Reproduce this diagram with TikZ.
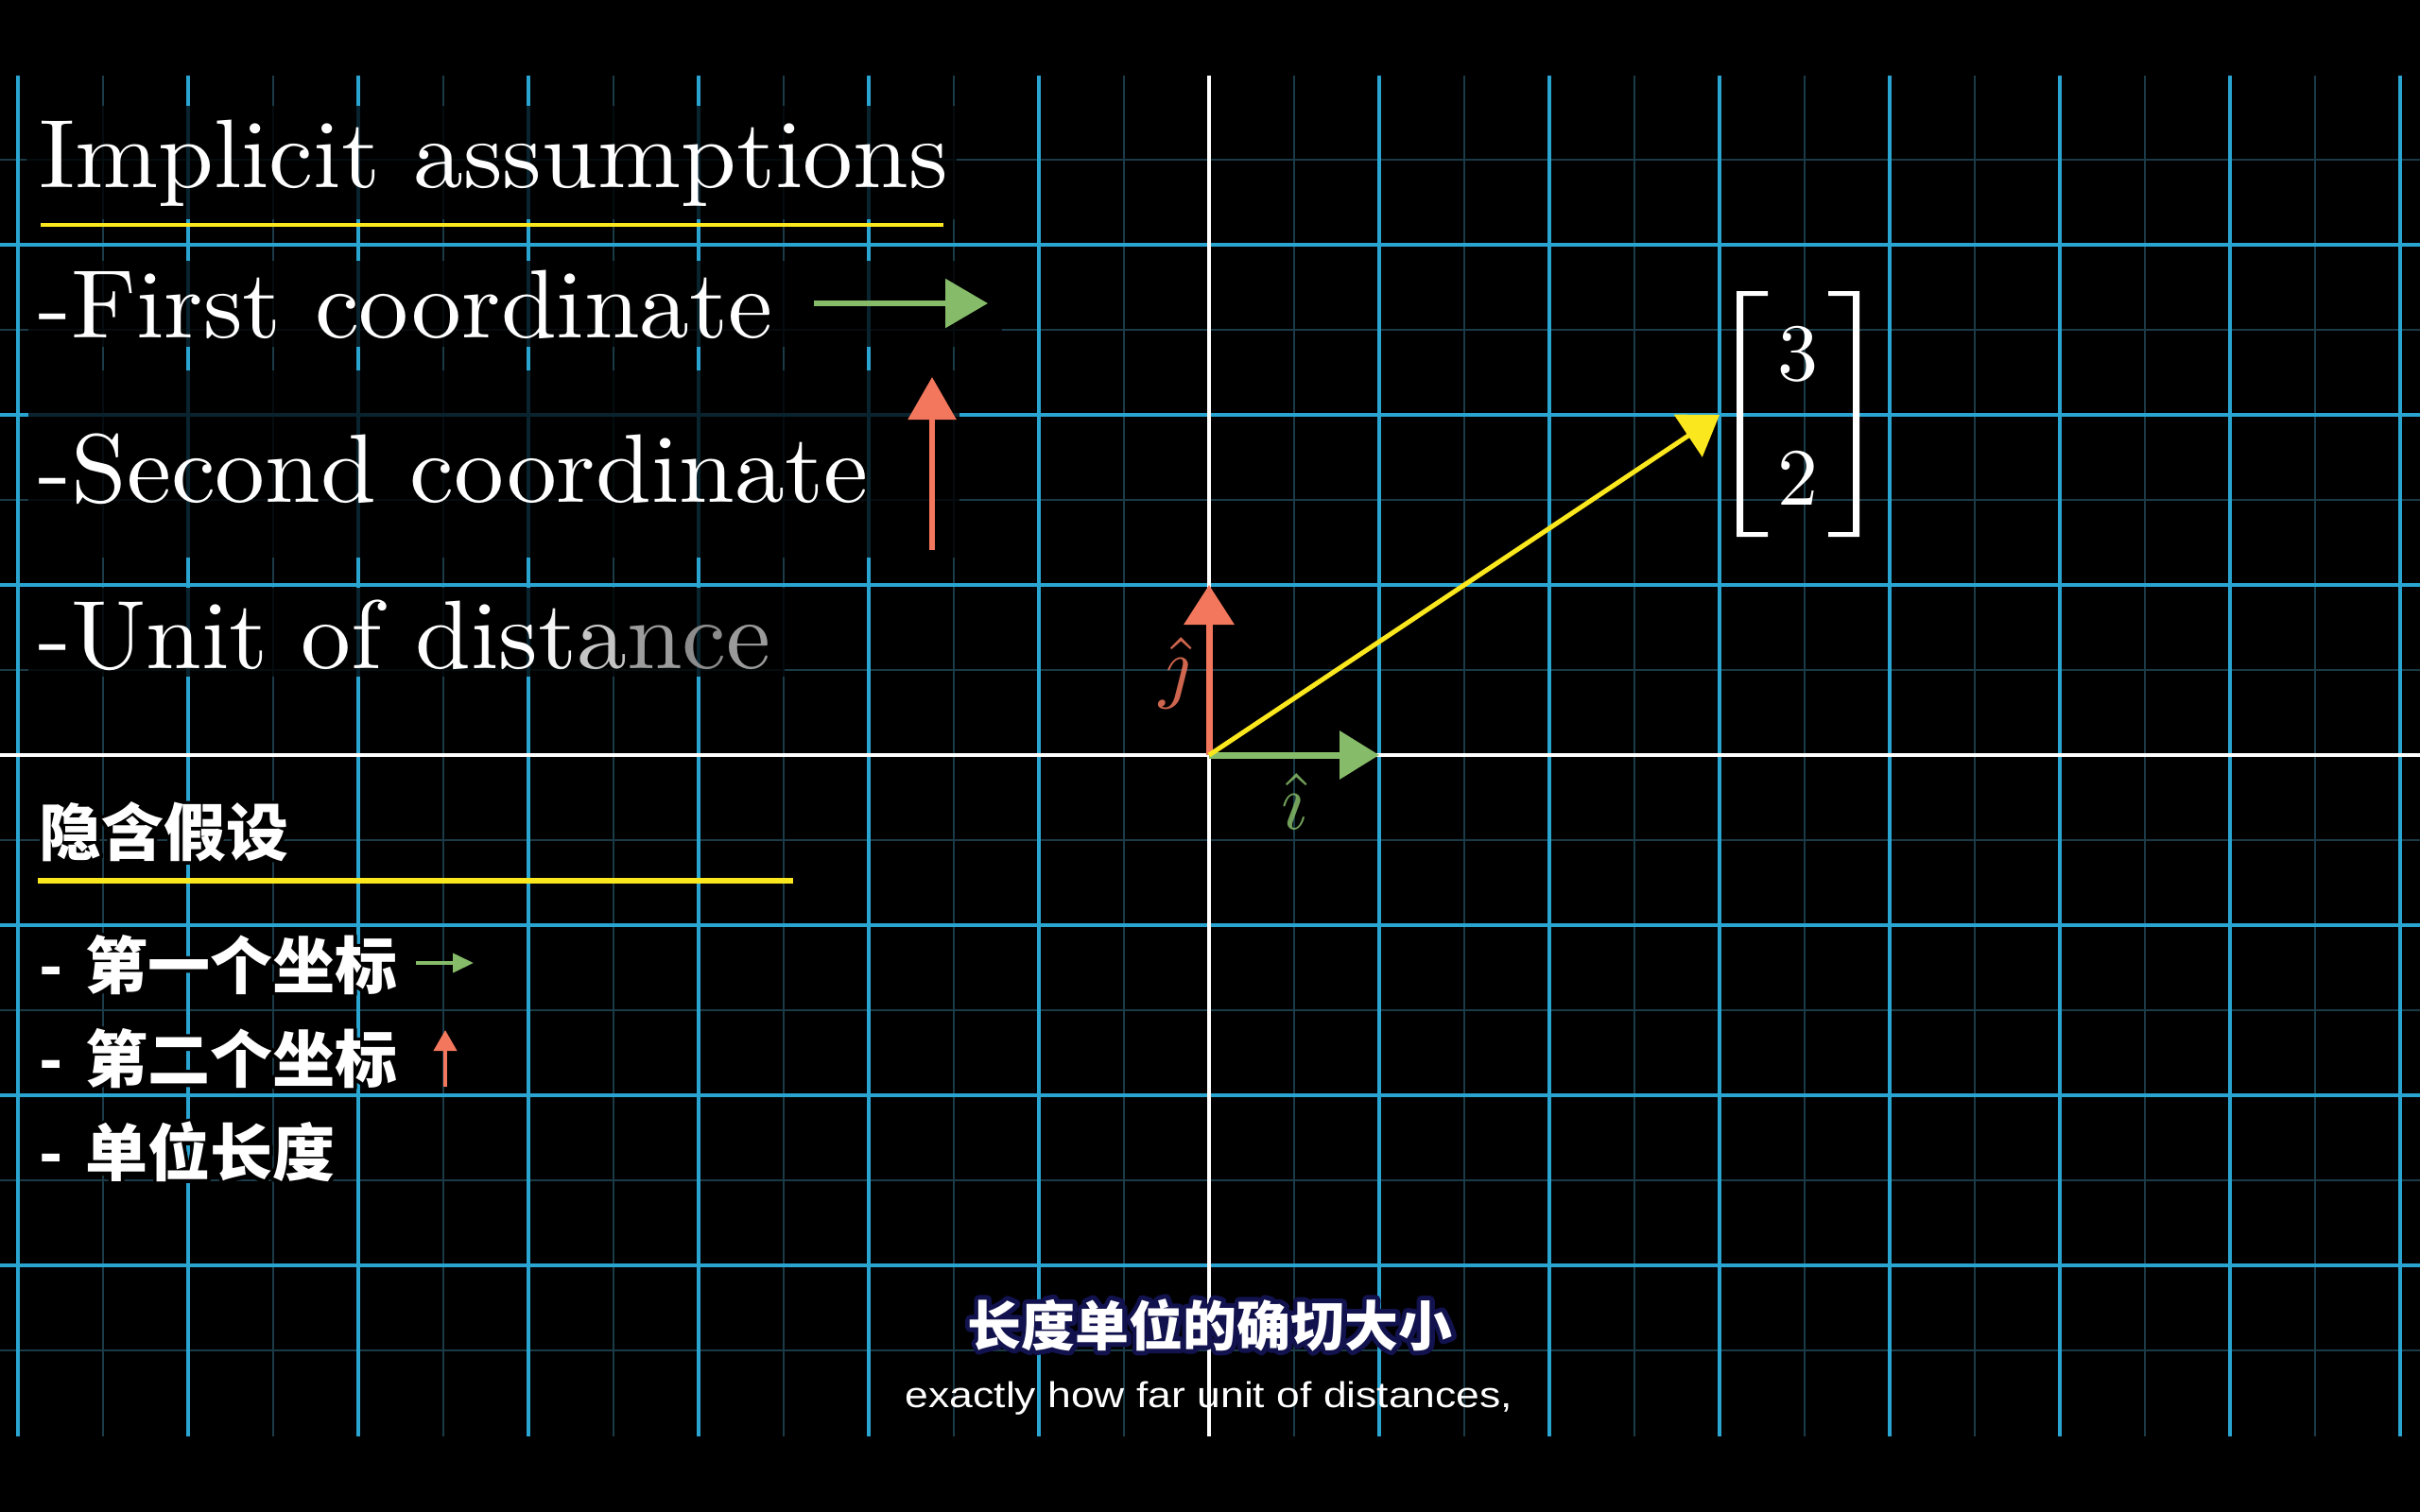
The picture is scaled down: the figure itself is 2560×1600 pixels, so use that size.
\documentclass[tikz,border=0pt]{standalone}
\usepackage{fontspec}
\usepackage{graphicx}
\setmainfont{lmroman10-regular.otf}
\newfontfamily\listfont{lmroman10-regular.otf}[FakeStretch=1.026]
\newfontfamily\cjk{Noto Sans CJK SC}
\newfontfamily\subfont{Liberation Sans}[FakeStretch=1.17]
\usetikzlibrary{arrows.meta}
\definecolor{gridblue}{HTML}{2AA5D2}
\definecolor{gridminor}{HTML}{1A3B47}
\definecolor{vgreen}{HTML}{86BC69}
\definecolor{vorange}{HTML}{F3775D}
\definecolor{vyellow}{HTML}{FAE71E}
\definecolor{subnavy}{HTML}{12124E}
\newcommand{\outlinedtext}[3]{\makebox[0pt][l]{\color{#1}\special{pdf:literal direct 1 j #2 w 2 Tr}#3\special{pdf:literal direct 0 Tr}}#3}
\begin{document}
\begin{tikzpicture}[x=1pt,y=-1pt,
  gridmajor/.style={gridblue,line width=4.2pt},
  gridminorline/.style={gridminor,line width=2.6pt},
  axisline/.style={white,line width=4pt},
  backdrop/.style={fill=black,fill opacity=0.78},
  entext/.style={anchor=base west,inner sep=0pt,text=white,font=\listfont\fontsize{103}{110}\selectfont},
  zhtext/.style={anchor=west,inner sep=0pt,text=white,font=\cjk\bfseries\fontsize{66}{70}\selectfont},
  digit/.style={anchor=base,inner sep=0pt,text=white,font=\fontsize{86}{90}\selectfont},
  ivec/.style={vgreen,line width=7pt,-{Triangle[length=42pt,width=50pt]}},
  jvec/.style={vorange,line width=7pt,-{Triangle[length=42pt,width=52pt]}},
  vvec/.style={vyellow,line width=5pt,-{Triangle[length=40pt,width=53pt]}},
  legendgreen/.style={vgreen,line width=6pt,-{Triangle[length=45pt,width=51pt]}},
  legendorange/.style={vorange,line width=6pt,-{Triangle[length=45pt,width=50pt]}},
  smallgreen/.style={vgreen,line width=4pt,-{Triangle[length=22pt,width=20pt]}},
  smallorange/.style={vorange,line width=4pt,-{Triangle[length=22pt,width=24pt]}},
  hatlabel/.style={inner sep=0pt,text opacity=0.85}
]
\useasboundingbox (0,0) rectangle (2560,1600);
\fill[black] (0,0) rectangle (2560,1600);

% grid
\begin{scope}
\clip (0,80) rectangle (2560,1520);
\foreach \x in {109,289,...,2449} \draw[gridminorline] (\x,80) -- (\x,1520);
\foreach \y in {169,349,...,1429} \draw[gridminorline] (0,\y) -- (2560,\y);
\foreach \x in {19,199,...,2539} \draw[gridmajor] (\x,80) -- (\x,1520);
\foreach \y in {259,439,...,1339} \draw[gridmajor] (0,\y) -- (2560,\y);
\draw[axisline] (1279,80) -- (1279,1520);
\draw[axisline] (0,799) -- (2560,799);
\end{scope}

% backdrops behind the English lines
\fill[backdrop] (28,112) rectangle (1012,232);
\fill[backdrop] (30,276) rectangle (1060,367);
\fill[backdrop] (30,392) rectangle (1015,590);
\fill[backdrop] (30,622) rectangle (830,716);

% English list
\node[entext] (title) at (41,198) {Implicit assumptions};
\draw[vyellow,line width=4.5pt] (43,238) -- (998,238);
\node[entext] (first) at (40,357) {-First coordinate};
\coordinate (fa) at (861,321);
\coordinate (fb) at (1045,321);
\draw[legendgreen] (fa) -- (fb);
\node[entext] (second) at (40,531) {-Second coordinate};
\coordinate (sa) at (986,582);
\coordinate (sb) at (986,399);
\draw[legendorange] (sa) -- (sb);
\node[entext] (unit) at (40,707) {-Unit of dis{\color[HTML]{F4F4F4}t}{\color[HTML]{C4C4C4}a}{\color[HTML]{9C9C9C}n}{\color[HTML]{8C8C8C}c}{\color[HTML]{9A9A9A}e}};

% Chinese list
\node[zhtext] (zhtitle) at (41,880) {\outlinedtext{black}{7}{隐含假设}};
\draw[vyellow,line width=6pt] (40,932) -- (839,932);
\node[zhtext] (zhfirst) at (41,1021) {\outlinedtext{black}{7}{-\hspace{0.36em}第一个坐标}};
\coordinate (ga) at (440,1019);
\coordinate (gb) at (501,1019);
\draw[smallgreen] (ga) -- (gb);
\node[zhtext] (zhsecond) at (41,1120) {\outlinedtext{black}{7}{-\hspace{0.36em}第二个坐标}};
\coordinate (oa) at (471,1150);
\coordinate (ob) at (471,1090);
\draw[smallorange] (oa) -- (ob);
\node[zhtext] (zhunit) at (41,1219) {\outlinedtext{black}{7}{-\hspace{0.36em}单位长度}};

% matrix
\fill[white] (1837,308) -- (1870,308) -- (1870,313) -- (1844,313) -- (1844,563) -- (1870,563) -- (1870,568) -- (1837,568) -- cycle;
\fill[white] (1967,308) -- (1934,308) -- (1934,313) -- (1960,313) -- (1960,563) -- (1934,563) -- (1934,568) -- (1967,568) -- cycle;
\node[digit] (m3) at (1902,402) {3};
\node[digit] (m2) at (1902,534) {2};

% vectors
\coordinate (O) at (1279,799);
\coordinate (I) at (1459,799);
\coordinate (J) at (1279,619);
\coordinate (V) at (1819,439);
\draw[jvec] (O) -- (J);
\draw[ivec] (O) -- (I);
\draw[vvec] (O) -- (V);
\node[hatlabel,text=vorange] (jlab) at (1243,712) {\scalebox{8.5}{$\hat{\jmath}$}};
\node[hatlabel,text=vgreen] (ilab) at (1369,848) {\scalebox{8.5}{$\hat{\imath}$}};

% subtitles
\node[inner sep=0pt,text=white,font=\cjk\bfseries\fontsize{57}{60}\selectfont] (subzh) at (1280,1402) {\outlinedtext{subnavy}{10}{长度单位的确切大小}};
\node[anchor=base,inner sep=0pt,text=white,font=\subfont\fontsize{38}{40}\selectfont] (suben) at (1279,1489) {exactly how far unit of distances,};
\end{tikzpicture}
\end{document}
